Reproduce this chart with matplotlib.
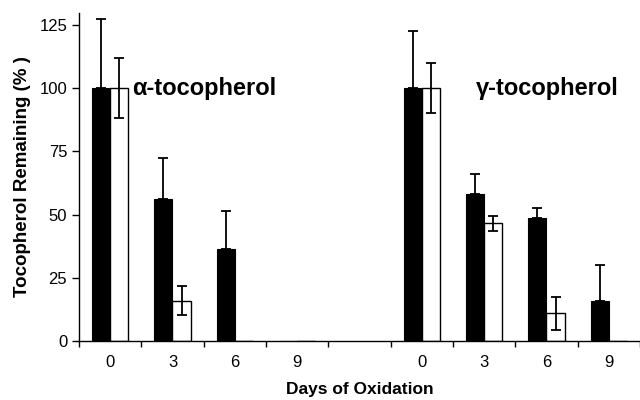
import numpy as np
import matplotlib
matplotlib.use('Agg')
import matplotlib.pyplot as plt

plt.rcParams['font.family'] = ['Liberation Sans', 'DejaVu Sans']

# categories: alpha days, blank gap, gamma days
tick_labels = ['0', '3', '6', '9', '', '0', '3', '6', '9']

# alpha-tocopherol
alpha_black = [100, 56, 36.5, 0]
alpha_black_err = [27.5, 16.5, 15, 0]
alpha_white = [100, 16, 0, 0]
alpha_white_err = [12, 5.8, 0, 0]

# gamma-tocopherol
gamma_black = [100, 58, 48.5, 16]
gamma_black_err = [22.5, 8, 4, 14]
gamma_white = [100, 46.5, 11, 0]
gamma_white_err = [10, 3, 6.5, 0]

fig = plt.figure(figsize=(6.4, 4.0), dpi=100)
ax = fig.add_axes([0.1234, 0.1475, 0.8766, 0.82])

pos_a = np.array([0, 1, 2, 3])
pos_g = np.array([5, 6, 7, 8])
w = 0.29

for pos, blk, blk_err, wht, wht_err in [
        (pos_a, alpha_black, alpha_black_err, alpha_white, alpha_white_err),
        (pos_g, gamma_black, gamma_black_err, gamma_white, gamma_white_err)]:
    ax.bar(pos - w / 2, blk, w, color='black', edgecolor='black', linewidth=0.8, zorder=2)
    ax.bar(pos + w / 2, wht, w, color='white', edgecolor='black', linewidth=1.0, zorder=2)
    blk = np.array(blk)
    wht = np.array(wht)
    # black bars: upper error only, drawn behind the bar
    m = np.array(blk_err) > 0
    ax.errorbar(pos[m] - w / 2, blk[m],
                yerr=[np.zeros(m.sum()), np.array(blk_err)[m]],
                fmt='none', ecolor='black', elinewidth=1.3, capsize=3.5, capthick=1.3, zorder=1)
    m = np.array(wht_err) > 0
    ax.errorbar(pos[m] + w / 2, wht[m], yerr=np.array(wht_err)[m],
                fmt='none', ecolor='black', elinewidth=1.3, capsize=3.5, capthick=1.3, zorder=3)

ax.set_xlim(-0.5, 8.5)
ax.set_ylim(0, 129.7)
ax.set_yticks([0, 25, 50, 75, 100, 125])
ax.set_xticks(np.arange(9))
ax.set_xticklabels(tick_labels)
ax.set_xticks(np.arange(-0.5, 9.0, 1.0), minor=True)
ax.tick_params(axis='x', which='major', length=0, labelsize=12, pad=10)
ax.tick_params(axis='x', which='minor', length=4, direction='out', width=1)
ax.tick_params(axis='y', labelsize=12, length=5, width=1, direction='out')

for s in ['top', 'right']:
    ax.spines[s].set_visible(False)
ax.spines['left'].set_linewidth(1)
ax.spines['bottom'].set_linewidth(1)

ax.text(0.36, 100, '\u03b1-tocopherol', fontsize=17, fontweight='bold', va='center', ha='left')
ax.text(5.86, 100, '\u03b3-tocopherol', fontsize=17, fontweight='bold', va='center', ha='left')

ax.set_ylabel('Tocopherol Remaining (% )', fontsize=13.5, fontweight='bold', labelpad=6)
ax.set_xlabel('Days of Oxidation', fontsize=12.5, fontweight='bold', labelpad=9)

plt.savefig('out.png', dpi=100)
